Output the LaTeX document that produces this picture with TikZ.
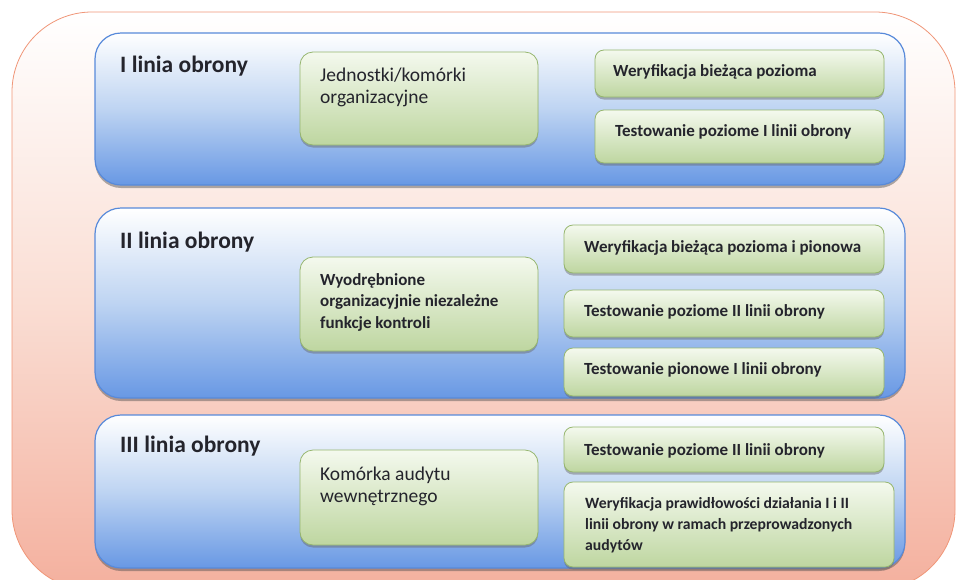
\documentclass[tikz,border=0pt]{standalone}
\usepackage{fontspec}
\setmainfont{Carlito}
\usetikzlibrary{shadows}
\definecolor{orB}{RGB}{240,150,120}
\definecolor{salm}{RGB}{244,176,158}
\definecolor{pinkM}{RGB}{250,222,212}
\definecolor{bluB}{RGB}{88,138,218}
\definecolor{bluF}{RGB}{104,152,228}
\definecolor{bluM}{RGB}{190,212,242}
\definecolor{grnB}{RGB}{150,182,110}
\definecolor{grnT}{RGB}{244,249,238}
\definecolor{grnF}{RGB}{190,214,160}
\definecolor{txt}{RGB}{36,36,44}
\begin{document}
\begin{tikzpicture}[x=1pt,y=1pt,
  outer/.style={draw=orB, line width=0.8pt, rounded corners=80pt, top color=white, bottom color=salm, middle color=pinkM, inner sep=0, minimum width=943pt, minimum height=578pt},
  lane/.style={draw=bluB, line width=1.2pt, rounded corners=26pt, top color=white, bottom color=bluF, middle color=bluM, inner sep=0, minimum width=810pt,
     drop shadow={shadow xshift=0pt, shadow yshift=-3pt, opacity=0.45, fill=black!70}},
  gbox/.style={draw=grnB, line width=0.8pt, top color=grnT, bottom color=grnF, inner sep=0,
     drop shadow={shadow xshift=0pt, shadow yshift=-2.5pt, opacity=0.45, fill=black!60}},
  unitbox/.style={gbox, rounded corners=13pt, minimum width=238pt},
  taskbox/.style={gbox, rounded corners=9pt},
  ttl/.style={anchor=base west, inner sep=0, text=txt, font=\bfseries\fontsize{23.5}{26}\selectfont},
  utxt/.style={anchor=base west, inner sep=0, text=txt, align=left, font=\fontsize{19.5}{22}\selectfont},
  ubtxt/.style={anchor=base west, inner sep=0, text=txt, align=left, font=\bfseries\fontsize{17}{21.5}\selectfont},
  ttxt/.style={anchor=base west, inner sep=0, text=txt, align=left, font=\bfseries\fontsize{17}{21}\selectfont},
  tstxt/.style={anchor=base west, inner sep=0, text=txt, align=left, font=\bfseries\fontsize{15.7}{21}\selectfont},
]
\useasboundingbox (0,0) rectangle (956,-579);
\node[outer] (frame) at (483.5,-301) {};

\node[lane, minimum height=152pt] (l1) at (500,-109) {};
\node[lane, minimum height=190pt] (l2) at (500,-303) {};
\node[lane, minimum height=153pt] (l3) at (500,-491.5) {};

\node[ttl] (t1) at (120,-72) {I linia obrony};
\node[ttl] (t2) at (120,-248) {II linia obrony};
\node[ttl] (t3) at (120,-452) {III linia obrony};

\node[unitbox, minimum height=93pt] (u1) at (419,-98.5) {};
\node[unitbox, minimum height=94pt] (u2) at (419,-304) {};
\node[unitbox, minimum height=95pt] (u3) at (419,-497.5) {};
\node[utxt] (u1t) at (320,-103) {Jednostki/komórki\\organizacyjne};
\node[ubtxt] (u2t) at (320,-328) {Wyodrębnione\\organizacyjnie niezależne\\funkcje kontroli};
\node[utxt] (u3t) at (320,-502) {Komórka audytu\\wewnętrznego};

\node[taskbox, minimum width=289pt, minimum height=47pt] (a1) at (739.5,-73.5) {};
\node[taskbox, minimum width=289pt, minimum height=53pt] (a2) at (739.5,-136.5) {};
\node[taskbox, minimum width=320pt, minimum height=48pt] (b1) at (724,-249) {};
\node[taskbox, minimum width=320pt, minimum height=47pt] (b2) at (724,-313.5) {};
\node[taskbox, minimum width=320pt, minimum height=48pt] (b3) at (724,-372) {};
\node[taskbox, minimum width=320pt, minimum height=45pt] (c1) at (724,-449.5) {};
\node[taskbox, minimum width=330pt, minimum height=85pt] (c2) at (729,-524.5) {};

\node[ttxt] (a1t) at (613,-76) {Weryfikacja bieżąca pozioma};
\node[ttxt] (a2t) at (615,-136) {Testowanie poziome I linii obrony};
\node[ttxt] (b1t) at (584,-252) {Weryfikacja bieżąca pozioma i pionowa};
\node[ttxt] (b2t) at (584,-316) {Testowanie poziome II linii obrony};
\node[ttxt] (b3t) at (584,-374) {Testowanie pionowe I linii obrony};
\node[ttxt] (c1t) at (584,-455) {Testowanie poziome II linii obrony};
\node[tstxt] (c2t) at (585,-550) {Weryfikacja prawidłowości działania I i II\\linii obrony w ramach przeprowadzonych\\audytów};
\end{tikzpicture}
\end{document}
